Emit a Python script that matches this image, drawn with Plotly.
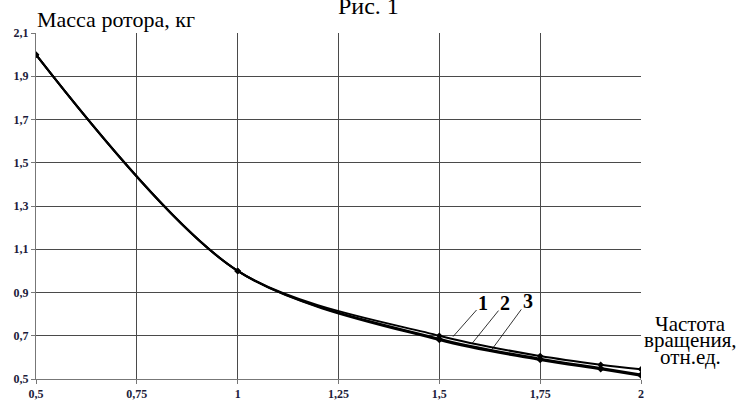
import plotly.graph_objects as go

freq = [0.5, 1.0, 1.5, 1.75, 1.9, 2.0]
mass_1 = [2.0, 1.0, 0.700, 0.606, 0.566, 0.545]
mass_2 = [2.0, 1.0, 0.686, 0.594, 0.551, 0.521]
mass_3 = [2.0, 1.0, 0.680, 0.588, 0.545, 0.515]
x_ticks = [0.5, 0.75, 1.0, 1.25, 1.5, 1.75, 2.0]
x_tick_text = ["0,5", "0,75", "1", "1,25", "1,5", "1,75", "2"]
y_ticks = [0.5, 0.7, 0.9, 1.1, 1.3, 1.5, 1.7, 1.9, 2.1]
y_tick_text = ["0,5", "0,7", "0,9", "1,1", "1,3", "1,5", "1,7", "1,9", "2,1"]
curve_names = ["1", "2", "3"]

serif = "Liberation Serif"

fig = go.Figure()
for name, ys in zip(curve_names, [mass_1, mass_2, mass_3]):
    fig.add_trace(go.Scatter(
        x=freq, y=ys, mode="lines+markers", name=name,
        line=dict(color="black", width=2, shape="spline", smoothing=0.9),
        marker=dict(color="black", size=5, symbol="diamond"),
        showlegend=False,
    ))

# curve labels with leader lines
label_pts = [(1.534, 0.696, 30, -34), (1.581, 0.664, 33, -41), (1.630, 0.636, 36, -49)]
for name, (px, py, ax, ay) in zip(curve_names, label_pts):
    fig.add_annotation(
        x=px, y=py, xref="x", yref="y", text="<b>" + name + "</b>",
        showarrow=True, arrowhead=0, arrowwidth=0.8, arrowcolor="black",
        ax=ax, ay=ay, font=dict(family=serif, size=20, color="black"),
    )

fig.add_annotation(x=-0.002, y=1.04, xref="paper", yref="paper", xanchor="left", yanchor="middle",
                   text="Масса ротора, кг", showarrow=False,
                   font=dict(family=serif, size=22, color="black"))
fig.add_annotation(x=0.549, y=1.077, xref="paper", yref="paper", xanchor="center", yanchor="middle",
                   text="Рис. 1", showarrow=False,
                   font=dict(family=serif, size=24, color="black"))
for txt, yy in [("Частота", 0.158), ("вращения,", 0.112), ("отн.ед.", 0.065)]:
    fig.add_annotation(x=1.081, y=yy, xref="paper", yref="paper", xanchor="center", yanchor="middle",
                       text=txt, showarrow=False,
                       font=dict(family=serif, size=21, color="black"))

axis_common = dict(
    showgrid=True, gridcolor="#4a4a4a", gridwidth=1,
    showline=True, linecolor="#777777", linewidth=1,
    ticks="outside", ticklen=4, tickcolor="#777777",
    tickfont=dict(family=serif, size=12, color="#1c1c3a", weight="bold"),
    zeroline=False,
)

fig.update_layout(
    width=742, height=403,
    margin=dict(l=36, r=101, t=33, b=24, autoexpand=False),
    paper_bgcolor="white", plot_bgcolor="white",
    xaxis=dict(range=[0.5, 2.0], tickvals=x_ticks, ticktext=x_tick_text, **axis_common),
    yaxis=dict(range=[0.5, 2.1], tickvals=y_ticks, ticktext=y_tick_text, **axis_common),
)

fig.write_html("out.html", config={"displayModeBar": False},
               post_script="document.body.style.margin='0';")
